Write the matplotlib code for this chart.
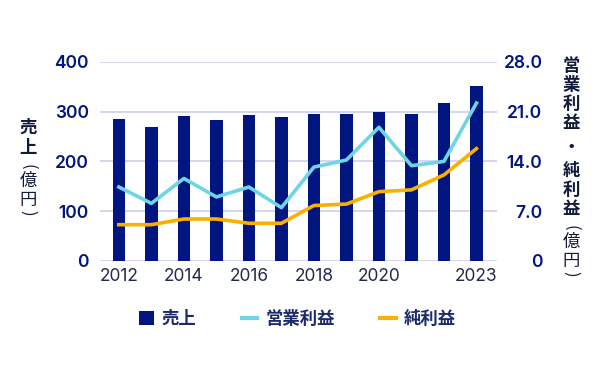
import matplotlib
matplotlib.use("Agg")
import matplotlib.pyplot as plt
from matplotlib.lines import Line2D
from matplotlib.patches import Patch

years = [2012, 2013, 2014, 2015, 2016, 2017, 2018, 2019, 2020, 2021, 2022, 2023]
sales = [286, 270, 291, 283, 293, 289, 296, 296, 300, 296, 317, 352]
op_profit = [10.4, 8.1, 11.6, 9.0, 10.4, 7.5, 13.2, 14.2, 18.8, 13.4, 14.0, 22.2]
net_profit = [5.1, 5.1, 5.9, 5.9, 5.3, 5.3, 7.8, 8.0, 9.75, 10.0, 12.1, 15.8]
xticks = [2012, 2014, 2016, 2018, 2020, 2023]
left_ticks = [0, 100, 200, 300, 400]
right_ticks = [0, 7, 14, 21, 28]
right_labels = ["0", "7.0", "14.0", "21.0", "28.0"]
left_title = "売上"
right_title = "営業利益・純利益"
unit = "億円"

NAVY = "#00157f"
CYAN = "#6dd5e5"
ORANGE = "#fbb000"
TEXT = "#1b2a6b"
GRID = "#cdd0ea"
DARK = "#111a3a"

plt.rcParams['font.family'] = ['Inter', 'Noto Sans CJK JP', 'DejaVu Sans']
cjk = ['Noto Sans CJK JP', 'DejaVu Sans']

W, H = 600, 366
fig = plt.figure(figsize=(W / 100, H / 100), dpi=100)
ax = fig.add_axes([0.1667, 0.287, 0.661, 0.544])
ax2 = ax.twinx()

ax.set_axisbelow(True)
ax.bar(years, sales, width=0.39, color=NAVY, zorder=2)
ax.set_ylim(0, 400)
ax.set_yticks(left_ticks)
ax.set_xlim(2011.42, 2023.62)
ax.set_xticks(xticks)
ax.grid(True, axis='y', color=GRID, linewidth=1.2, zorder=0)

ax2.plot(years, op_profit, color=CYAN, linewidth=2.6, zorder=3)
ax2.plot(years, net_profit, color=ORANGE, linewidth=2.6, zorder=3)
ax2.set_ylim(0, 28)
ax2.set_yticks(right_ticks)
ax2.set_yticklabels(right_labels)

for a in (ax, ax2):
    for s in a.spines.values():
        s.set_visible(False)
    a.tick_params(length=0)

ax.tick_params(axis='y', pad=8, labelcolor=NAVY, labelsize=12.5)
ax.tick_params(axis='x', pad=5, labelcolor="#222a4a", labelsize=12.5)
ax2.tick_params(axis='y', pad=33, labelcolor=NAVY, labelsize=12.5)
for lbl in ax.get_yticklabels() + ax2.get_yticklabels():
    lbl.set_fontweight('semibold')
for lbl in ax2.get_yticklabels():
    lbl.set_horizontalalignment('right')


def vtext(x_px, y_px, chars, step):
    """bold title chars stacked vertically (top -> bottom)"""
    y = y_px
    for ch in chars:
        if ch == "・":
            y += step * 0.25
        fig.text(x_px / W, 1 - y / H, ch, family=cjk, fontsize=12.5, fontweight='bold',
                 color=DARK, ha='center', va='center')
        y += step * (1.25 if ch == "・" else 1.0)


def vunit(x_px, y_px):
    """(億円) stacked vertically, parens turned sideways"""
    offs = [0, 13.5, 33, 45.5]
    chars = ["(", unit[0], unit[1], ")"]
    for ch, o in zip(chars, offs):
        paren = ch in "()"
        fig.text(x_px / W, 1 - (y_px + o) / H, ch, family=cjk,
                 fontsize=12 if paren else 12.5, color=DARK, ha='center', va='center',
                 rotation=-90 if paren else 0)


# left axis title
vtext(28, 128, left_title, 20)
vunit(28, 167)

# right axis title
vtext(571, 66, right_title, 19.1)
vunit(571, 228)

handles = [
    Patch(facecolor=NAVY, label="売上"),
    Line2D([], [], color=CYAN, linewidth=3, label="営業利益"),
    Line2D([], [], color=ORANGE, linewidth=3, label="純利益"),
]
leg = fig.legend(handles=handles, loc='center', bbox_to_anchor=(0.495, 0.128), ncol=3,
                 frameon=False, handlelength=0.9, handleheight=0.9, columnspacing=2.6,
                 handletextpad=0.45, prop={'family': cjk, 'size': 12.5, 'weight': 'bold'})
for t in leg.get_texts():
    t.set_color(TEXT)

fig.savefig("out.png", dpi=100)
